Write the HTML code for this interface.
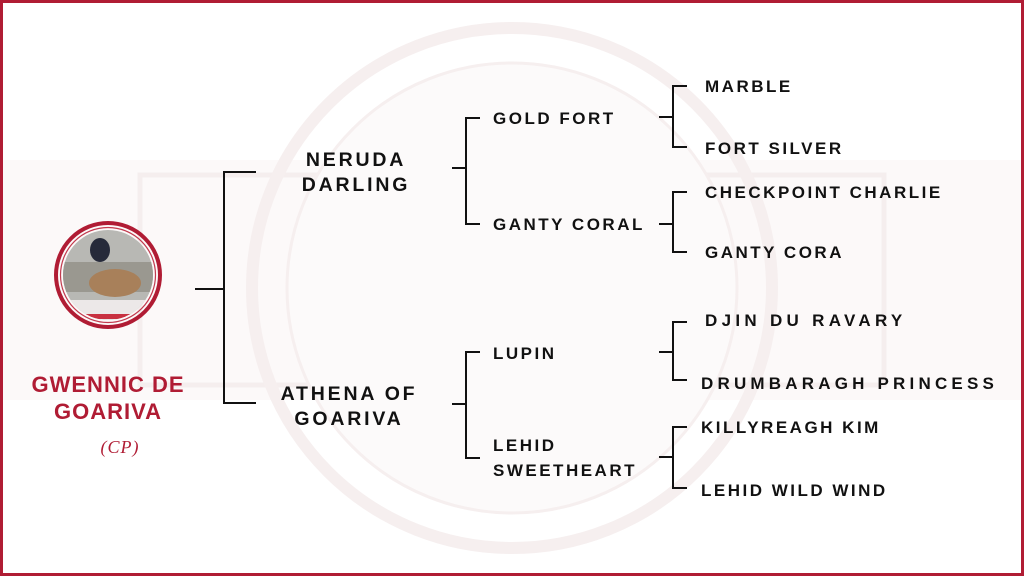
<!DOCTYPE html>
<html><head><meta charset="utf-8"><style>
html,body{margin:0;padding:0;background:#fff}
svg{display:block}
text{font-family:"Liberation Sans",sans-serif;font-weight:bold;fill:#111}
</style></head><body>
<svg width="1024" height="576" viewBox="0 0 1024 576" xmlns="http://www.w3.org/2000/svg">
<rect x="0" y="0" width="1024" height="576" fill="#fff"/>
<rect x="0" y="160" width="1024" height="240" fill="#fcf9f9"/>
<rect x="140" y="175" width="744" height="210" fill="none" stroke="#f5eeee" stroke-width="5"/>
<circle cx="512" cy="288" r="260" fill="none" stroke="#f6efef" stroke-width="12"/>
<circle cx="512" cy="288" r="225" fill="#fcfafa" stroke="#f6efef" stroke-width="3"/>
<rect x="1.5" y="1.5" width="1021" height="573" fill="none" stroke="#b01c34" stroke-width="3"/>
<circle cx="108" cy="275" r="52" fill="none" stroke="#b01c34" stroke-width="4"/>
<circle cx="108" cy="275" r="47.5" fill="none" stroke="#c23a4e" stroke-width="1.2"/>
<clipPath id="c"><circle cx="108" cy="275" r="45"/></clipPath>
<g clip-path="url(#c)">
<rect x="60" y="228" width="100" height="95" fill="#b8b8b4"/>
<rect x="60" y="262" width="100" height="30" fill="#9a9890"/>
<rect x="60" y="300" width="100" height="25" fill="#ece8e8"/>
<ellipse cx="115" cy="283" rx="26" ry="14" fill="#a8805a"/>
<ellipse cx="100" cy="250" rx="10" ry="12" fill="#262a3a"/>
<rect x="85" y="314" width="50" height="5" fill="#c83040"/>
</g>
<g stroke="#111" stroke-width="2" fill="none">
<path d="M195 289H224M256 172H224V403H256"/>
<path d="M452 168H466M480 118H466V224H480"/>
<path d="M452 404H466M480 352H466V458H480"/>
<path d="M659 117H673M687 86H673V147H687"/>
<path d="M659 224H673M687 192H673V252H687"/>
<path d="M659 352H673M687 322H673V380H687"/>
<path d="M659 457H673M687 427H673V488H687"/>
</g>
<g text-anchor="middle" font-size="22" letter-spacing="1">
<text x="108" y="392" style="fill:#b01c34">GWENNIC DE</text>
<text x="108" y="419" style="fill:#b01c34">GOARIVA</text>
</g>
<text x="120" y="453" text-anchor="middle" font-size="18" style="font-family:'Liberation Serif',serif;font-weight:normal;font-style:italic;fill:#b01c34" letter-spacing="1">(CP)</text>
<g text-anchor="middle" font-size="19.5" letter-spacing="2.8">
<text x="356" y="166">NERUDA</text>
<text x="356" y="191">DARLING</text>
<text x="349" y="400">ATHENA OF</text>
<text x="349" y="425">GOARIVA</text>
</g>
<g font-size="17" letter-spacing="2.5">
<text x="493" y="124">GOLD FORT</text>
<text x="493" y="230">GANTY CORAL</text>
<text x="493" y="359">LUPIN</text>
<text x="493" y="451">LEHID</text>
<text x="493" y="476">SWEETHEART</text>
<text x="705" y="92">MARBLE</text>
<text x="705" y="154">FORT SILVER</text>
<text x="705" y="198">CHECKPOINT CHARLIE</text>
<text x="705" y="258">GANTY CORA</text>
<text x="705" y="326" letter-spacing="4.3">DJIN DU RAVARY</text>
<text x="701" y="389" letter-spacing="4.2">DRUMBARAGH PRINCESS</text>
<text x="701" y="433">KILLYREAGH KIM</text>
<text x="701" y="496">LEHID WILD WIND</text>
</g>
</svg>
</body></html>
